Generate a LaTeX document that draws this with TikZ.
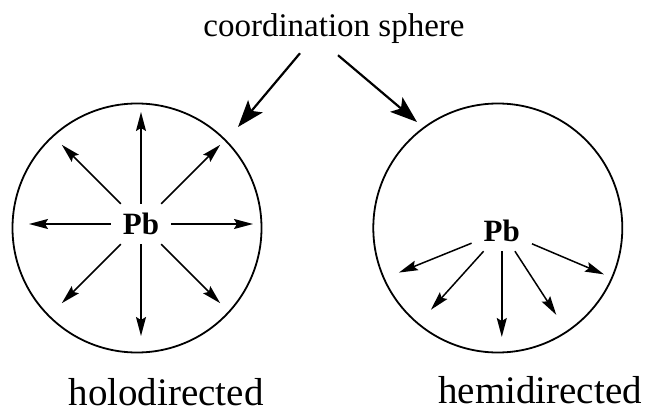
\documentclass[tikz,border=0pt]{standalone}
\usepackage{fontspec}
\setmainfont{Liberation Serif}
\usetikzlibrary{arrows.meta,positioning,calc}

\begin{document}
\begin{tikzpicture}[x=1pt,y=-1pt,>=Stealth,
  sphere/.style={draw,circle,line width=1.8pt,minimum size=249pt,inner sep=0pt},
  metal/.style={font=\fontsize{31}{31}\selectfont\bfseries,minimum width=60pt,minimum height=40pt,inner sep=0pt},
  lbl/.style={font=\fontsize{39}{39}\selectfont,inner sep=0pt,anchor=base},
  ray/.style={-{Stealth[length=19pt,width=10pt,inset=3pt]},line width=1.5pt},
  big/.style={-{Stealth[length=27pt,width=19pt,inset=6pt]},line width=2.2pt}]
\useasboundingbox (0,0) rectangle (647,414);
\node[sphere] (holo) at (137,228) {};
\node[sphere, right=110pt of holo] (hemi) {};
\node[metal] (pbA) at ([xshift=4pt,yshift=4pt]holo.center) {Pb};
\node[metal] (pbB) at ([xshift=4pt,yshift=-3pt]hemi.center) {Pb};
% bonds all round
\foreach \a in {0,45,...,315} {
  \coordinate (hA\a) at ($(pbA)+(\a:112pt)$);
  \draw[ray] (pbA) -- (hA\a);
}
% bonds on one side only
\foreach \a/\r in {202/111,228/106,270/106,303/100,337/111} {
  \coordinate (hB\a) at ($(pbB)+(\a:\r pt)$);
  \draw[ray] (pbB) -- (hB\a);
}
\node[lbl, font=\fontsize{33}{33}\selectfont] (coord) at (334,37) {coordination sphere};
\coordinate (tipA) at (238,127);
\coordinate (tipB) at (417,122);
\draw[big] ([xshift=-34pt,yshift=-9pt]coord.south) -- (tipA);
\draw[big] ([xshift=4pt,yshift=-11pt]coord.south) -- (tipB);
\node[lbl] (holoname) at (166,405) {holodirected};
\node[lbl] (heminame) at (540,403) {hemidirected};
\end{tikzpicture}
\end{document}
